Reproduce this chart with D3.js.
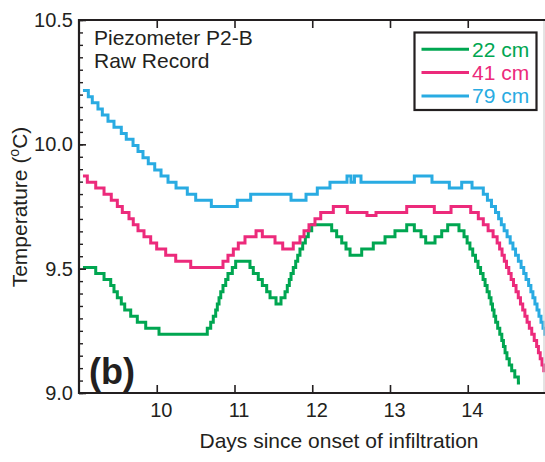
<!DOCTYPE html>
<html>
<head>
<meta charset="utf-8">
<script src="https://cdn.jsdelivr.net/npm/d3@7"></script>
<style>
  html, body { margin: 0; padding: 0; background: #fff; }
  svg { display: block; font-family: "Liberation Sans", Arial, Helvetica, sans-serif; }
</style>
</head>
<body>
<svg id="chart" width="545" height="462"></svg>
<script>
// ---------- data (step series: value holds from each day until the next) ----------
const seriesNames = ["22 cm", "41 cm", "79 cm"];
const seriesColors = ["#00a651", "#ec2a7b", "#29abe2"];

const days22 = [9.051, 9.215, 9.322, 9.408, 9.450, 9.493, 9.544, 9.588, 9.665, 9.750, 9.858, 10.029,
  10.650, 10.694, 10.727, 10.758, 10.779, 10.801, 10.823, 10.852, 10.887, 10.916, 10.972, 11.015,
  11.199, 11.242, 11.306, 11.358, 11.414, 11.457, 11.534, 11.598, 11.650, 11.679, 11.705, 11.727,
  11.756, 11.787, 11.813, 11.842, 11.877, 11.911, 11.949, 11.993, 12.250, 12.314, 12.379, 12.434,
  12.486, 12.636, 12.785, 12.936, 13.064, 13.215, 13.313, 13.399, 13.459, 13.579, 13.665, 13.742,
  13.887, 13.952, 13.992, 14.028, 14.064, 14.100, 14.132, 14.165, 14.197, 14.223, 14.249, 14.276,
  14.299, 14.318, 14.338, 14.359, 14.385, 14.412, 14.438, 14.459, 14.480, 14.504, 14.534, 14.565,
  14.605, 14.651, 14.672];
const temp22 = [9.505, 9.481, 9.456, 9.432, 9.407, 9.383, 9.358, 9.334, 9.309, 9.285, 9.260, 9.236,
  9.260, 9.285, 9.309, 9.334, 9.358, 9.383, 9.407, 9.432, 9.456, 9.481, 9.505, 9.530,
  9.505, 9.481, 9.456, 9.432, 9.407, 9.383, 9.358, 9.383, 9.407, 9.432, 9.456, 9.481,
  9.505, 9.530, 9.554, 9.579, 9.603, 9.628, 9.652, 9.677, 9.652, 9.628, 9.603, 9.579,
  9.554, 9.579, 9.603, 9.628, 9.652, 9.677, 9.652, 9.628, 9.603, 9.628, 9.652, 9.677,
  9.652, 9.628, 9.603, 9.579, 9.554, 9.530, 9.505, 9.481, 9.456, 9.432, 9.407, 9.383,
  9.358, 9.334, 9.309, 9.285, 9.260, 9.236, 9.211, 9.187, 9.162, 9.138, 9.113, 9.089,
  9.064, 9.040, 9.040];

const days41 = [9.051, 9.107, 9.215, 9.322, 9.415, 9.493, 9.557, 9.643, 9.698, 9.759, 9.836, 9.922,
  9.999, 10.115, 10.244, 10.437, 10.852, 10.916, 10.985, 11.049, 11.135, 11.277, 11.358, 11.521,
  11.620, 11.756, 11.842, 11.894, 11.958, 12.035, 12.109, 12.271, 12.451, 12.704, 12.820, 13.215,
  13.570, 13.785, 14.038, 14.136, 14.200, 14.262, 14.326, 14.378, 14.410, 14.441, 14.470, 14.498,
  14.528, 14.558, 14.588, 14.621, 14.650, 14.678, 14.707, 14.735, 14.763, 14.792, 14.823, 14.855,
  14.886, 14.909, 14.932, 14.955, 14.978, 15.0];
const temp41 = [9.873, 9.848, 9.824, 9.799, 9.775, 9.750, 9.726, 9.701, 9.677, 9.652, 9.628, 9.603,
  9.579, 9.554, 9.530, 9.505, 9.530, 9.554, 9.579, 9.603, 9.628, 9.652, 9.628, 9.603,
  9.579, 9.603, 9.628, 9.652, 9.677, 9.701, 9.726, 9.750, 9.726, 9.714, 9.726, 9.750,
  9.726, 9.750, 9.726, 9.701, 9.677, 9.652, 9.628, 9.603, 9.579, 9.554, 9.530, 9.505,
  9.481, 9.456, 9.432, 9.407, 9.383, 9.358, 9.334, 9.309, 9.285, 9.260, 9.236, 9.211,
  9.187, 9.162, 9.138, 9.113, 9.089, 9.089];

const days79 = [9.051, 9.120, 9.171, 9.244, 9.300, 9.373, 9.450, 9.544, 9.608, 9.695, 9.759, 9.823,
  9.891, 9.974, 10.055, 10.145, 10.248, 10.393, 10.501, 10.702, 11.036, 11.208, 11.727, 11.920,
  12.065, 12.228, 12.447, 12.498, 12.543, 12.627, 13.313, 13.540, 13.763, 13.922, 14.055, 14.200,
  14.253, 14.305, 14.357, 14.397, 14.432, 14.468, 14.506, 14.546, 14.581, 14.615, 14.651, 14.686,
  14.720, 14.750, 14.783, 14.812, 14.838, 14.864, 14.891, 14.916, 14.942, 14.968, 14.990, 15.0];
const temp79 = [10.216, 10.191, 10.167, 10.142, 10.118, 10.093, 10.069, 10.044, 10.020, 9.995, 9.971, 9.946,
  9.922, 9.897, 9.873, 9.848, 9.824, 9.799, 9.775, 9.750, 9.775, 9.799, 9.775, 9.799,
  9.824, 9.848, 9.873, 9.848, 9.873, 9.848, 9.873, 9.848, 9.824, 9.848, 9.824, 9.799,
  9.775, 9.750, 9.726, 9.701, 9.677, 9.652, 9.628, 9.603, 9.579, 9.554, 9.530, 9.505,
  9.481, 9.456, 9.432, 9.407, 9.383, 9.358, 9.334, 9.309, 9.285, 9.260, 9.236, 9.236];

const xTicks = [10, 11, 12, 13, 14];
const yMajorTicks = [9.0, 9.5, 10.0, 10.5];
const yMinorTicks = d3.range(0, 31).map(i => +(9 + i * 0.05).toFixed(2));

const seriesDays = [days22, days41, days79];
const seriesTemps = [temp22, temp41, temp79];

// ---------- layout ----------
const svg = d3.select("#chart");
const pLeft = 79, pRight = 545.5, pTop = 20, pBottom = 393;
const ink = "#231f20";
const x = d3.scaleLinear().domain([9, 15]).range([pLeft, pRight]);
const y = d3.scaleLinear().domain([9, 10.5]).range([pBottom, pTop]);

svg.append("defs").append("clipPath").attr("id", "clip")
  .append("rect").attr("x", pLeft).attr("y", pTop).attr("width", pRight - pLeft).attr("height", pBottom - pTop);

const line = d3.line().x(d => x(d[0])).y(d => y(d[1])).curve(d3.curveStepAfter);
const gLines = svg.append("g").attr("clip-path", "url(#clip)");
seriesDays.forEach((ds, i) => {
  const pts = ds.map((d, j) => [d, seriesTemps[i][j]]);
  gLines.append("path")
    .attr("d", line(pts))
    .attr("fill", "none")
    .attr("stroke", seriesColors[i])
    .attr("stroke-width", 3)
    .attr("stroke-linejoin", "miter");
});

// faint right border
svg.append("line").attr("x1", 544).attr("x2", 544).attr("y1", pTop).attr("y2", pBottom)
  .attr("stroke", "#c8c8c8").attr("stroke-width", 1);

// bottom axis
const gx = svg.append("g").attr("transform", `translate(0,${pBottom})`)
  .call(d3.axisBottom(x).tickValues(xTicks).tickSizeInner(-8).tickSizeOuter(0).tickPadding(10).tickFormat(d3.format("d")));
gx.select(".domain").remove();
gx.selectAll(".tick line").attr("stroke", ink).attr("stroke-width", 1.6);
gx.selectAll(".tick text").attr("fill", ink).attr("font-size", 20).attr("dx", 4)
  .attr("font-family", "'Liberation Sans', Arial, sans-serif");

// top axis (ticks only)
const gt = svg.append("g").attr("transform", `translate(0,${pTop})`)
  .call(d3.axisTop(x).tickValues(xTicks).tickSizeInner(-8).tickSizeOuter(0).tickFormat(""));
gt.select(".domain").remove();
gt.selectAll(".tick line").attr("stroke", ink).attr("stroke-width", 1.6);

// left axis minor ticks
const gyMinor = svg.append("g").attr("transform", `translate(${pLeft},0)`)
  .call(d3.axisLeft(y).tickValues(yMinorTicks).tickSizeInner(-4).tickSizeOuter(0).tickFormat(""));
gyMinor.select(".domain").remove();
gyMinor.selectAll(".tick line").attr("stroke", ink).attr("stroke-width", 1.4);

// left axis major ticks + labels
const gy = svg.append("g").attr("transform", `translate(${pLeft},0)`)
  .call(d3.axisLeft(y).tickValues(yMajorTicks).tickSizeInner(-7).tickSizeOuter(0).tickPadding(6).tickFormat(d3.format(".1f")));
gy.select(".domain").remove();
gy.selectAll(".tick line").attr("stroke", ink).attr("stroke-width", 1.6);
gy.selectAll(".tick text").attr("fill", ink).attr("font-size", 20)
  .attr("font-family", "'Liberation Sans', Arial, sans-serif");

// frame lines
svg.append("line").attr("x1", pLeft).attr("x2", pLeft).attr("y1", pTop - 1).attr("y2", pBottom + 1)
  .attr("stroke", ink).attr("stroke-width", 2.2);
svg.append("line").attr("x1", pLeft - 1).attr("x2", 545).attr("y1", pBottom).attr("y2", pBottom)
  .attr("stroke", ink).attr("stroke-width", 2.2);
svg.append("line").attr("x1", pLeft - 1).attr("x2", 545).attr("y1", pTop).attr("y2", pTop)
  .attr("stroke", ink).attr("stroke-width", 2.2);

// axis titles
svg.append("text").attr("x", 339).attr("y", 448).attr("text-anchor", "middle")
  .attr("font-size", 21).attr("fill", ink).text("Days since onset of infiltration");

const yt = svg.append("text").attr("transform", "translate(27,207) rotate(-90)")
  .attr("text-anchor", "middle").attr("font-size", 21).attr("fill", ink);
yt.append("tspan").text("Temperature (");
yt.append("tspan").attr("font-size", 14).attr("dy", -8).text("o");
yt.append("tspan").attr("dy", 8).text("C)");

// annotation
svg.append("text").attr("x", 94).attr("y", 45).attr("font-size", 21).attr("fill", ink).text("Piezometer P2-B");
svg.append("text").attr("x", 94).attr("y", 67.5).attr("font-size", 21).attr("fill", ink).text("Raw Record");
svg.append("text").attr("x", 89).attr("y", 384).attr("font-size", 36).attr("font-weight", "bold")
  .attr("fill", ink).text("(b)");

// legend
const lg = svg.append("g");
lg.append("rect").attr("x", 414.5).attr("y", 32.5).attr("width", 122).attr("height", 77.5)
  .attr("fill", "#fff").attr("stroke", ink).attr("stroke-width", 2.2);
seriesNames.forEach((n, i) => {
  const yy = 49.3 + i * 23.3;
  lg.append("line").attr("x1", 421.5).attr("x2", 469).attr("y1", yy).attr("y2", yy)
    .attr("stroke", seriesColors[i]).attr("stroke-width", 3);
  lg.append("text").attr("x", 472).attr("y", yy).attr("dy", "0.35em").attr("font-size", 21)
    .attr("fill", seriesColors[i]).text(n);
});
</script>
</body>
</html>
